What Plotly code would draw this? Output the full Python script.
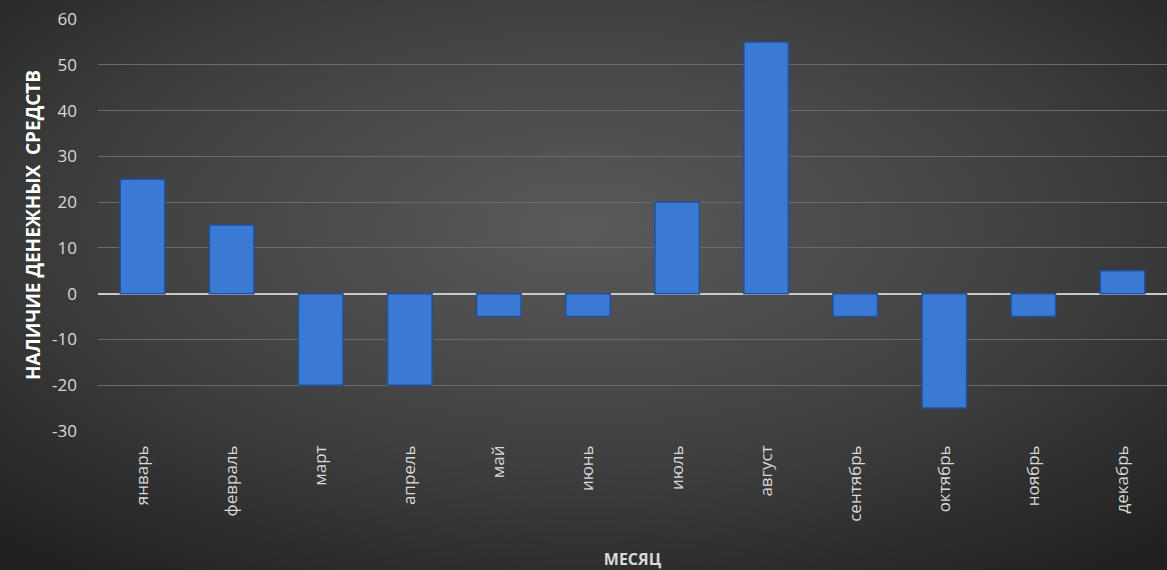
import base64
import plotly.graph_objects as go

months = ["январь", "февраль", "март", "апрель", "май", "июнь",
          "июль", "август", "сентябрь", "октябрь", "ноябрь", "декабрь"]
cash = [25, 15, -20, -20, -5, -5, 20, 55, -5, -25, -5, 5]
y_ticks = [-30, -20, -10, 0, 10, 20, 30, 40, 50, 60]
y_tick_text = [str(v) for v in y_ticks]

W, H = 1167, 570
ML, MR, MT, MB = 98, 0, 19, 139
PW, PH = W - ML - MR, H - MT - MB

svg = f'''<svg xmlns="http://www.w3.org/2000/svg" width="{W}" height="{H}" preserveAspectRatio="none">
<defs><radialGradient id="g" cx="50%" cy="40%" r="75%">
<stop offset="0%" stop-color="#5a5a5a"/>
<stop offset="55%" stop-color="#3f3f3f"/>
<stop offset="100%" stop-color="#202020"/>
</radialGradient></defs>
<rect width="{W}" height="{H}" fill="url(#g)"/></svg>'''
bg = "data:image/svg+xml;base64," + base64.b64encode(svg.encode()).decode()

fig = go.Figure()
fig.add_trace(go.Bar(
    x=months, y=cash, width=0.5,
    marker=dict(color="#3b7ad4", line=dict(color="#22509a", width=1.5)),
))

fig.update_layout(
    width=W, height=H,
    margin=dict(l=ML, r=MR, t=MT, b=MB),
    paper_bgcolor="#3a3a3a",
    plot_bgcolor="rgba(0,0,0,0)",
    showlegend=False,
    font=dict(family="Open Sans, Noto Sans, sans-serif", color="#d9d9d9", size=14),
    images=[dict(source=bg, xref="paper", yref="paper",
                 x=-ML / PW, y=1 + MT / PH, sizex=W / PW, sizey=H / PH,
                 xanchor="left", yanchor="top", sizing="stretch", layer="below")],
    xaxis=dict(
        tickangle=-90, showgrid=False, zeroline=False, showline=False,
        ticks="", ticklabelstandoff=10, tickfont=dict(size=17, color="#d9d9d9"),
        title=dict(text="<b>МЕСЯЦ</b>", font=dict(size=16, color="#d9d9d9"), standoff=34),
    ),
    yaxis=dict(
        range=[-30, 60], tickvals=y_ticks, ticktext=y_tick_text, showgrid=True,
        gridcolor="#6b6b6b", gridwidth=1,
        zeroline=True, zerolinecolor="#c8c8c8", zerolinewidth=2,
        ticks="", ticklabelstandoff=20, tickfont=dict(size=17, color="#d9d9d9"),
        title=dict(text="<b>НАЛИЧИЕ&nbsp;ДЕНЕЖНЫХ&nbsp;&nbsp;СРЕДСТВ</b>",
                   font=dict(size=19, color="#ffffff"), standoff=6),
    ),
    bargap=0.5,
)

fig.write_html("out.html")
